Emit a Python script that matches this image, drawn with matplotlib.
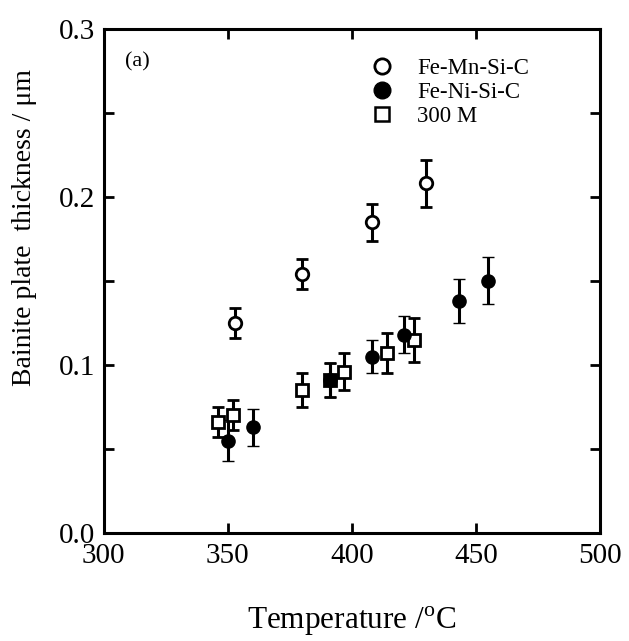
import matplotlib
matplotlib.use("Agg")
import matplotlib.pyplot as plt
from matplotlib.ticker import MultipleLocator
from matplotlib.lines import Line2D

plt.rcParams['font.family'] = ['Liberation Serif', 'DejaVu Serif']
plt.rcParams['mathtext.fontset'] = 'custom'
plt.rcParams['mathtext.rm'] = 'Liberation Serif'

# Fe-Mn-Si-C (open circles)
mn_T = [353, 380, 408, 430]
mn_y = [0.125, 0.154, 0.185, 0.208]
mn_e = [0.009, 0.009, 0.011, 0.014]

# Fe-Ni-Si-C (filled circles)
ni_T = [350, 360, 391, 408, 421, 443, 455]
ni_y = [0.055, 0.063, 0.091, 0.105, 0.118, 0.138, 0.150]
ni_e = [0.012, 0.011, 0.010, 0.010, 0.011, 0.013, 0.014]

# 300 M (open squares)
m3_T = [346, 352, 380, 391, 397, 414, 425]
m3_y = [0.066, 0.070, 0.085, 0.091, 0.096, 0.107, 0.115]
m3_e = [0.009, 0.009, 0.010, 0.010, 0.011, 0.012, 0.013]

x_ticks = [300, 350, 400, 450, 500]
y_ticks = [0.0, 0.1, 0.2, 0.3]

fig = plt.figure(figsize=(6.29, 6.41), dpi=100)
ax = fig.add_axes([0.165, 0.1685, 0.789, 0.7865])

ekw = dict(ecolor='black', elinewidth=2.2, capsize=4.5, capthick=2.2, linestyle='none')
ax.errorbar(m3_T, m3_y, yerr=m3_e, fmt='s', ms=8, mfc='white', mec='black', mew=2.0, **ekw)
ax.errorbar(mn_T, mn_y, yerr=mn_e, fmt='o', ms=9, mfc='white', mec='black', mew=2.0, **ekw)
ax.errorbar(ni_T, ni_y, yerr=ni_e, fmt='o', ms=9.5, mfc='black', mec='black', mew=1.0, **ekw)

ax.set_xlim(300, 500)
ax.set_ylim(0.0, 0.3)
ax.set_xticks(x_ticks)
ax.set_xticklabels([str(t) for t in x_ticks])
ax.set_yticks(y_ticks)
ax.set_yticklabels(['%.1f' % t for t in y_ticks])
ax.yaxis.set_minor_locator(MultipleLocator(0.05))
ax.tick_params(which='both', direction='in', top=True, right=True, length=7, width=2.0, labelsize=21)
ax.tick_params(axis='x', pad=7)
ax.tick_params(axis='y', pad=6)
for s in ax.spines.values():
    s.set_linewidth(2.2)

ax.set_xlabel('Temperature /$^{\\rm o}$C', fontsize=22.5, labelpad=26)
ax.set_ylabel('Bainite plate  thickness / μm', fontsize=20)
ax.yaxis.set_label_coords(-0.135, 0.605)

ax.text(0.042, 0.935, '(a)', transform=ax.transAxes, fontsize=16, va='center', ha='left')

handles = [
    Line2D([], [], marker='o', ls='none', ms=11, mfc='white', mec='black', mew=2.0),
    Line2D([], [], marker='o', ls='none', ms=12, mfc='black', mec='black'),
    Line2D([], [], marker='s', ls='none', ms=10, mfc='white', mec='black', mew=1.8),
]
ax.legend(handles, ['Fe-Mn-Si-C', 'Fe-Ni-Si-C', '300 M'], loc='upper left',
          bbox_to_anchor=(0.50, 0.975), frameon=False, fontsize=16.5,
          handletextpad=0.95, labelspacing=0.13, borderpad=0.2, handlelength=1.2)

fig.savefig('out.png', dpi=100)
